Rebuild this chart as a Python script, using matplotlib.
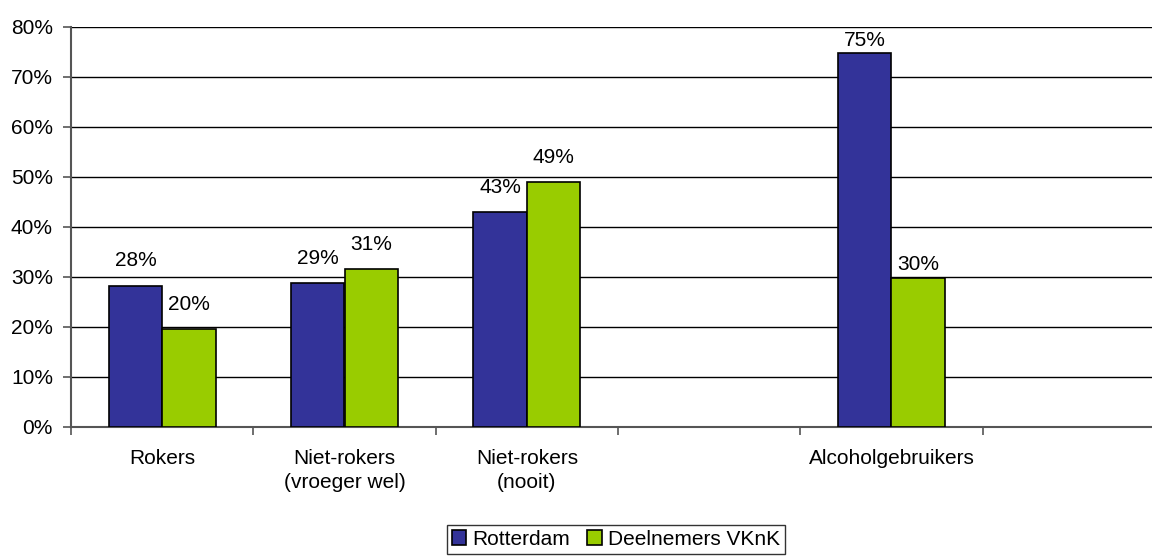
import matplotlib
matplotlib.use("Agg")
import matplotlib.pyplot as plt
import numpy as np

categories = ["Rokers", "Niet-rokers\n(vroeger wel)", "Niet-rokers\n(nooit)", "", "Alcoholgebruikers", ""]
rotterdam = [28.3, 28.8, 43.0, np.nan, 74.8, np.nan]
vknk = [19.6, 31.6, 49.0, np.nan, 29.9, np.nan]
rotterdam_labels = ["28%", "29%", "43%", "", "75%", ""]
vknk_labels = ["20%", "31%", "49%", "", "30%", ""]
series_names = ["Rotterdam", "Deelnemers VKnK"]
yticks = [0, 10, 20, 30, 40, 50, 60, 70, 80]

plt.rcParams['font.family'] = ['Liberation Sans', 'DejaVu Sans']
fs = 15

fig = plt.figure(figsize=(11.52, 5.56), dpi=100)
ax = fig.add_axes([71/1152, (556-427)/556, (1165-71)/1152, 400/556])

x = np.arange(len(categories))
w = 0.293
blue = "#333399"
green = "#99CC00"
ax.bar(x - w/2, rotterdam, w, color=blue, edgecolor="black", linewidth=1.2, zorder=3, label=series_names[0])
ax.bar(x + w/2, vknk, w, color=green, edgecolor="black", linewidth=1.2, zorder=3, label=series_names[1])

def place(v, cat_idx):
    # Excel-like label placement: above bar, kept inside plot area
    if cat_idx == 4:
        return min(v + 0.6, 75.4)
    return v + 3.0

for i, (xi, v, lab) in enumerate(zip(x - w/2, rotterdam, rotterdam_labels)):
    if lab:
        ax.text(xi, place(v, i), lab, ha="center", va="bottom", fontsize=fs, zorder=4)
for i, (xi, v, lab) in enumerate(zip(x + w/2, vknk, vknk_labels)):
    if lab:
        ax.text(xi, place(v, i), lab, ha="center", va="bottom", fontsize=fs, zorder=4)

ax.set_xlim(-0.5, len(categories) - 0.5)
ax.set_ylim(0, 80)
ax.set_yticks(yticks)
ax.set_yticklabels([f"{t}%" for t in yticks], fontsize=fs)
ax.yaxis.grid(True, color="black", linewidth=1.0, zorder=0)
ax.set_axisbelow(True)

ax.set_xticks(x)
ax.set_xticklabels(categories, fontsize=fs, linespacing=1.3)
ax.set_xticks(np.arange(len(categories) + 1) - 0.5, minor=True)
ax.tick_params(axis="x", which="major", length=0, pad=16)
ax.tick_params(axis="x", which="minor", length=6, width=1.2, color="#555555")
ax.tick_params(axis="y", length=6, width=1.2, color="#555555", pad=7)

for s in ["top", "right"]:
    ax.spines[s].set_visible(False)
ax.spines["left"].set_color("#555555")
ax.spines["left"].set_linewidth(1.5)
ax.spines["bottom"].set_color("#555555")
ax.spines["bottom"].set_linewidth(1.5)

leg = fig.legend(loc="lower center", bbox_to_anchor=(616/1152, 0.0), ncol=2, fontsize=fs,
                 frameon=True, fancybox=False, edgecolor="black", handlelength=0.7, handleheight=0.7,
                 handletextpad=0.3, columnspacing=0.8, borderpad=0.25, borderaxespad=0.1)
leg.get_frame().set_linewidth(1.0)

fig.savefig("out.png", dpi=100)
